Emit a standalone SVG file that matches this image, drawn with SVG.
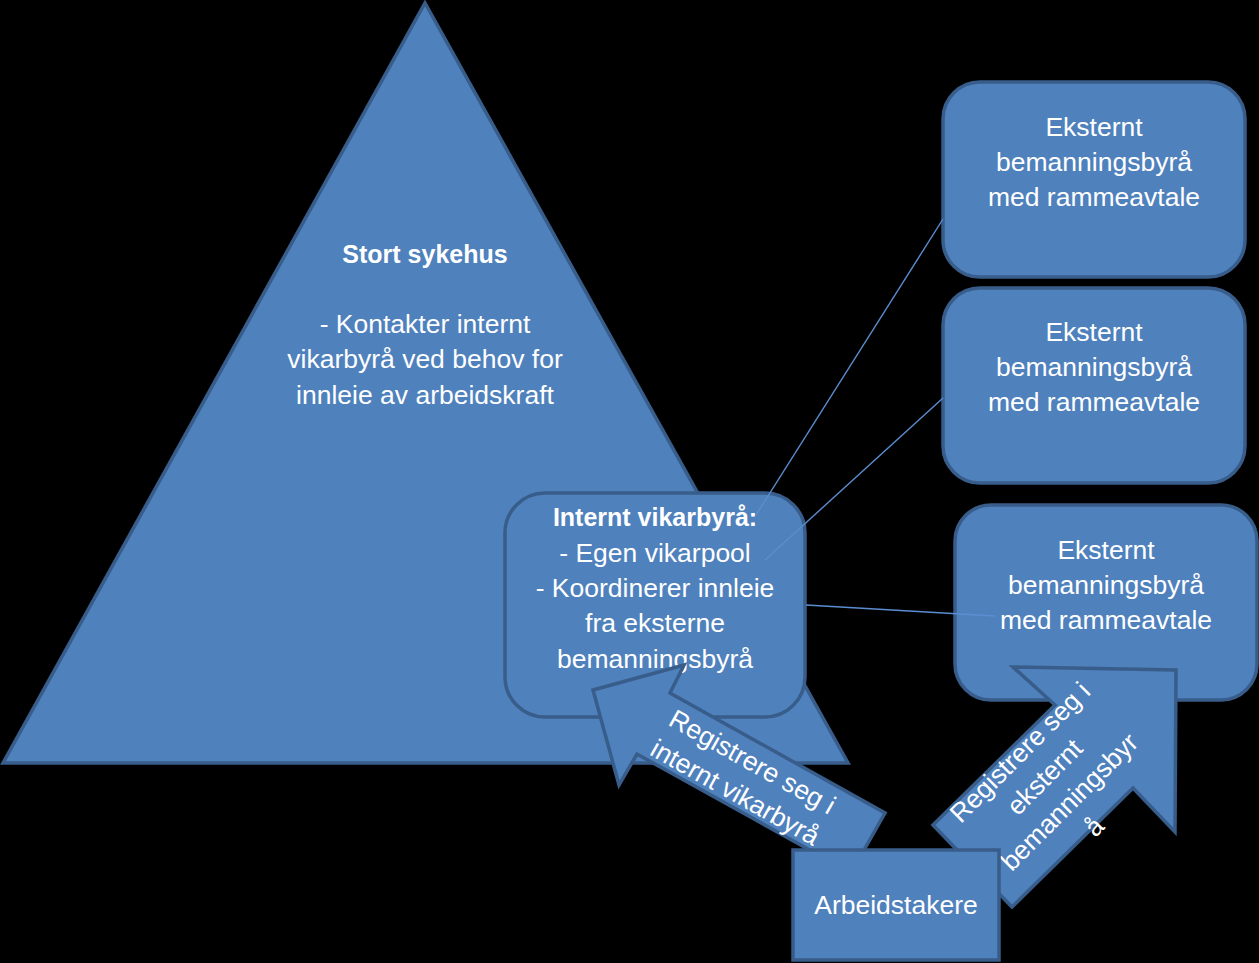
<svg xmlns="http://www.w3.org/2000/svg" width="1259" height="963" viewBox="0 0 1259 963">
<defs>
<style>
.shape{fill:#4F81BD;stroke:#385D8A;stroke-width:3.5;stroke-linejoin:miter}
.t{font-family:"Liberation Sans",Arial,sans-serif;font-size:26.5px;fill:#FFFFFF;text-anchor:middle}
.b{font-weight:bold;font-size:25px}
.conn{stroke:#5B8ED0;stroke-width:1.4;fill:none}
</style>
</defs>
<rect x="0" y="0" width="1259" height="963" fill="#000000"/>
<g id="sykehus">
<polygon class="shape" points="425,3 848,763 3,763"/>
<text class="t b" x="425" y="263">Stort sykehus</text>
<text class="t" x="425" y="333">- Kontakter internt</text>
<text class="t" x="425" y="368">vikarbyrå ved behov for</text>
<text class="t" x="425" y="404">innleie av arbeidskraft</text>
</g>
<g id="ekstern1">
<rect class="shape" x="943" y="82" width="302" height="195" rx="37" ry="37"/>
<text class="t" x="1094" y="136">Eksternt</text>
<text class="t" x="1094" y="171">bemanningsbyrå</text>
<text class="t" x="1094" y="206">med rammeavtale</text>
</g>
<g id="ekstern2">
<rect class="shape" x="943" y="288" width="302" height="195" rx="37" ry="37"/>
<text class="t" x="1094" y="341">Eksternt</text>
<text class="t" x="1094" y="376">bemanningsbyrå</text>
<text class="t" x="1094" y="411">med rammeavtale</text>
</g>
<g id="ekstern3">
<rect class="shape" x="955" y="505" width="302" height="195" rx="36" ry="36"/>
<text class="t" x="1106" y="559">Eksternt</text>
<text class="t" x="1106" y="594">bemanningsbyrå</text>
<text class="t" x="1106" y="629">med rammeavtale</text>
</g>
<g id="internt">
<rect class="shape" x="505" y="493" width="300" height="224" rx="40" ry="40"/>
<text class="t b" x="655" y="526">Internt vikarbyrå:</text>
<text class="t" x="655" y="562">- Egen vikarpool</text>
<text class="t" x="655" y="597">- Koordinerer innleie</text>
<text class="t" x="655" y="632">fra eksterne</text>
<text class="t" x="655" y="668">bemanningsbyrå</text>
</g>
<g id="connectors">
<line class="conn" x1="756" y1="515" x2="943" y2="219"/>
<line class="conn" x1="765" y1="560" x2="943" y2="398"/>
<line class="conn" x1="806" y1="605" x2="995" y2="616"/>
</g>
<g id="pil-internt">
<polygon class="shape" points="593,690 684,665 670,693 885,813 851,873 637,754 619,785"/>
<g transform="translate(745,775) rotate(29.2)">
<text class="t" x="0" y="-6">Registrere seg i</text>
<text class="t" x="0" y="29">internt vikarbyrå</text>
</g>
</g>
<g id="pil-eksternt">
<polygon class="shape" points="1013,667 1176,670 1175,832 1133,788 1012,907 933,825 1055,705"/>
<g transform="translate(1057,789.5) rotate(-45)">
<text class="t" x="0" y="-43.5">Registrere seg i</text>
<text class="t" x="0" y="-8.5">eksternt</text>
<text class="t" x="0" y="26.5">bemanningsbyr</text>
<text class="t" x="0" y="61.5">å</text>
</g>
</g>
<g id="arbeidstakere">
<rect class="shape" x="793" y="850" width="206" height="110"/>
<text class="t" x="896" y="914">Arbeidstakere</text>
</g>
</svg>
